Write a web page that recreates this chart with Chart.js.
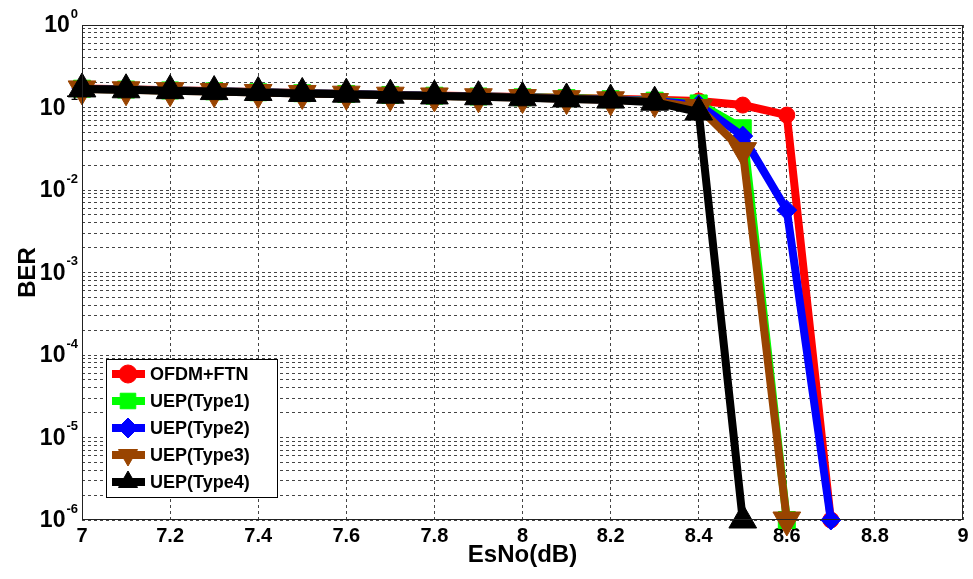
<!DOCTYPE html>
<html lang="en">
<head>
  <meta charset="UTF-8">
  <title>BER vs EsNo</title>
  <script src="https://cdn.jsdelivr.net/npm/chart.js"></script>
  <style>
    body { margin: 0; background: #fff; }
    #wrap { width: 973px; height: 579px; }
  </style>
</head>
<body>
<div id="wrap"><canvas id="berChart" width="973" height="579"></canvas></div>
<script>
const esno = [7, 7.1, 7.2, 7.3, 7.4, 7.5, 7.6, 7.7, 7.8, 7.9, 8.0, 8.1, 8.2, 8.3, 8.4, 8.5, 8.6, 8.7];
const ofdmFtn = [0.170, 0.166, 0.162, 0.158, 0.154, 0.150, 0.147, 0.143, 0.140, 0.137, 0.134, 0.131, 0.128, 0.124, 0.120, 0.107, 0.081, 1e-6];
const uepType1 = [0.169, 0.165, 0.161, 0.157, 0.153, 0.149, 0.146, 0.142, 0.139, 0.136, 0.133, 0.130, 0.126, 0.121, 0.112, 0.056, 1e-6, null];
const uepType2 = [0.169, 0.165, 0.161, 0.157, 0.153, 0.149, 0.146, 0.142, 0.139, 0.136, 0.133, 0.129, 0.125, 0.120, 0.108, 0.045, 0.0057, 1e-6];
const uepType3 = [0.168, 0.164, 0.160, 0.156, 0.152, 0.148, 0.145, 0.141, 0.138, 0.135, 0.132, 0.128, 0.124, 0.118, 0.100, 0.030, 1e-6, null];
const uepType4 = [0.168, 0.164, 0.160, 0.156, 0.152, 0.148, 0.145, 0.141, 0.138, 0.135, 0.131, 0.127, 0.123, 0.116, 0.088, 1e-6, null, null];
const xTicks = [7, 7.2, 7.4, 7.6, 7.8, 8, 8.2, 8.4, 8.6, 8.8, 9];
const decades = [-6, -5, -4, -3, -2, -1, 0];

const toPoints = vals => esno.map((x, i) => ({ x, y: vals[i] })).filter(p => p.y !== null);

// lower order is painted on top, so Type4 ends up over everything
const series = [
  { label: 'OFDM+FTN', data: ofdmFtn, color: '#ff0000', style: 'circle', rot: 0, r: 8, lr: 9, order: 5 },
  { label: 'UEP(Type1)', data: uepType1, color: '#00ff00', style: 'rect', rot: 0, r: 12, lr: 11, order: 4 },
  { label: 'UEP(Type2)', data: uepType2, color: '#0000ff', style: 'rectRot', rot: 0, r: 10, lr: 10, order: 3 },
  { label: 'UEP(Type3)', data: uepType3, color: '#994400', style: 'triangle', rot: 180, r: 16, lr: 11, order: 2 },
  { label: 'UEP(Type4)', data: uepType4, color: '#000000', style: 'triangle', rot: 0, r: 16, lr: 11, order: 1 }
];

const FONT = '"Liberation Sans", Arial, sans-serif';

// frame, 10^k labels and the boxed legend
const decor = {
  id: 'decor',
  afterDraw(chart) {
    const ctx = chart.ctx;
    const a = chart.chartArea;
    const y = chart.scales.y;
    ctx.save();
    ctx.strokeStyle = '#222';
    ctx.lineWidth = 1;
    ctx.strokeRect(a.left + 0.5, a.top + 0.5, a.right - a.left - 1, a.bottom - a.top - 1);

    ctx.fillStyle = '#000';
    ctx.textBaseline = 'middle';
    ctx.textAlign = 'right';
    decades.forEach(k => {
      const py = y.getPixelForValue(Math.pow(10, k));
      const sup = String(k);
      ctx.font = 'bold 13px ' + FONT;
      const sw = ctx.measureText(sup).width;
      ctx.fillText(sup, a.left - 4, py - 11);
      ctx.font = 'bold 23px ' + FONT;
      ctx.fillText('10', a.left - 5 - sw, py + 1);
    });

    // legend
    const lx = 106, ly = 359, lw = 171, lh = 138;
    ctx.fillStyle = '#fff';
    ctx.fillRect(lx, ly, lw, lh);
    ctx.strokeStyle = '#000';
    ctx.lineWidth = 1;
    ctx.strokeRect(lx + 0.5, ly + 0.5, lw, lh);
    series.forEach((s, i) => {
      const ry = ly + 15 + i * 27;
      ctx.strokeStyle = s.color;
      ctx.lineWidth = 8;
      ctx.beginPath();
      ctx.moveTo(112, ry);
      ctx.lineTo(145, ry);
      ctx.stroke();
      ctx.fillStyle = s.color;
      ctx.lineWidth = 1;
      Chart.helpers.drawPoint(ctx, {
        pointStyle: s.style, rotation: s.rot, radius: s.lr, borderWidth: 1
      }, 128, ry);
      ctx.fillStyle = '#000';
      ctx.font = 'bold 18px ' + FONT;
      ctx.textAlign = 'left';
      ctx.fillText(s.label, 150, ry + 1);
    });
    ctx.restore();
  }
};

const chart = new Chart(document.getElementById('berChart').getContext('2d'), {
  type: 'line',
  data: {
    datasets: series.map(s => ({
      label: s.label,
      data: toPoints(s.data),
      borderColor: s.color,
      backgroundColor: s.color,
      pointBackgroundColor: s.color,
      pointBorderColor: s.color,
      pointStyle: s.style,
      pointRotation: s.rot,
      pointRadius: s.r,
      pointBorderWidth: 1,
      borderWidth: 8,
      fill: false,
      tension: 0,
      clip: false,
      order: s.order
    }))
  },
  options: {
    responsive: false,
    animation: false,
    layout: { autoPadding: false, padding: { left: 0, right: 10, top: 25, bottom: 5 } },
    plugins: { legend: { display: false }, tooltip: { enabled: false } },
    scales: {
      x: {
        type: 'linear',
        min: 7,
        max: 9,
        afterBuildTicks: s => { s.ticks = xTicks.map(v => ({ value: v })); },
        afterFit: s => { s.height = 54; },
        ticks: {
          color: '#000',
          padding: 4,
          font: { family: FONT, size: 20, weight: 'bold' },
          callback: v => String(v)
        },
        grid: { color: '#444', drawTicks: false, lineWidth: 1 },
        border: { display: false, dash: [3, 3] },
        title: {
          display: true,
          text: 'EsNo(dB)',
          color: '#000',
          padding: { top: 0 },
          font: { family: FONT, size: 24, weight: 'bold' }
        }
      },
      y: {
        type: 'logarithmic',
        min: 1e-6,
        max: 1,
        afterBuildTicks: s => {
          const t = [];
          for (let k = -6; k < 0; k++) {
            for (let m = 1; m < 10; m++) t.push({ value: m * Math.pow(10, k) });
          }
          t.push({ value: 1 });
          s.ticks = t;
        },
        afterFit: s => { s.width = 82; },
        ticks: { display: true, color: 'rgba(0,0,0,0)', autoSkip: false, callback: () => '' },
        grid: { color: '#444', drawTicks: false, lineWidth: 1 },
        border: { display: false, dash: [3, 3] },
        title: {
          display: true,
          text: 'BER',
          color: '#000',
          padding: { top: 14, bottom: 0 },
          font: { family: FONT, size: 24, weight: 'bold' }
        }
      }
    }
  },
  plugins: [decor]
});
</script>
</body>
</html>
